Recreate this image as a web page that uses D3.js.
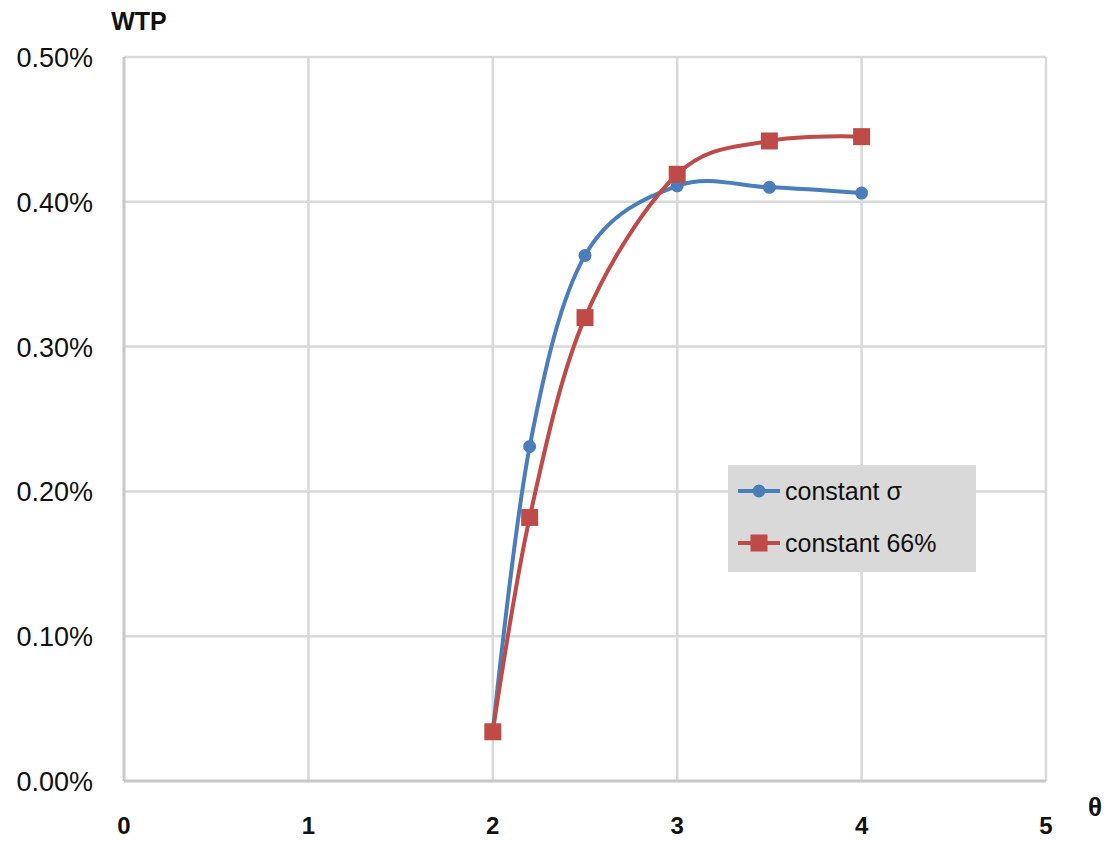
<!DOCTYPE html>
<html>
<head>
<meta charset="utf-8">
<script src="https://cdn.jsdelivr.net/npm/d3@7"></script>
<style>
  html, body { margin: 0; padding: 0; background: #fff; }
  svg { display: block; }
</style>
</head>
<body>
<svg id="chart" width="1107" height="843"></svg>
<script>
// WTP against theta for two calibrations
const thetaTicks = [0, 1, 2, 3, 4, 5];
const wtpTicks = [0, 0.001, 0.002, 0.003, 0.004, 0.005];

const thetaSigma = [2, 2.2, 2.5, 3, 3.5, 4];
const wtpSigma = [0.00034, 0.00231, 0.00363, 0.00411, 0.00410, 0.00406];

const theta66 = [2, 2.2, 2.5, 3, 3.5, 4];
const wtp66 = [0.00034, 0.00182, 0.00320, 0.00419, 0.00442, 0.00445];

const seriesNames = ["constant σ", "constant 66%"];
const seriesColors = ["#4A7EBB", "#BE4B48"];

const svg = d3.select("#chart");
const plot = { left: 124, right: 1046, top: 57, bottom: 781 };

const x = d3.scaleLinear().domain([0, 5]).range([plot.left, plot.right]);
const y = d3.scaleLinear().domain([0, 0.005]).range([plot.bottom, plot.top]);

const grid = "#D9D9D9";

// gridlines
svg.append("g").selectAll("line").data(wtpTicks.slice(1)).join("line")
  .attr("x1", plot.left).attr("x2", plot.right)
  .attr("y1", d => y(d)).attr("y2", d => y(d))
  .attr("stroke", grid).attr("stroke-width", 2.5);
svg.append("g").selectAll("line").data(thetaTicks.slice(1)).join("line")
  .attr("y1", plot.top).attr("y2", plot.bottom)
  .attr("x1", d => x(d)).attr("x2", d => x(d))
  .attr("stroke", grid).attr("stroke-width", 2.5);

// axis lines
svg.append("line").attr("x1", plot.left).attr("x2", plot.left)
  .attr("y1", plot.top).attr("y2", plot.bottom)
  .attr("stroke", "#C8C8C8").attr("stroke-width", 3);
svg.append("line").attr("x1", plot.left).attr("x2", plot.right)
  .attr("y1", plot.bottom).attr("y2", plot.bottom)
  .attr("stroke", "#C8C8C8").attr("stroke-width", 3);

// y tick labels
svg.append("g").selectAll("text").data(wtpTicks).join("text")
  .attr("x", 93).attr("y", d => y(d) + 10)
  .attr("text-anchor", "end")
  .attr("font-family", "Liberation Sans, Arial, sans-serif")
  .attr("font-size", 27).attr("fill", "#111")
  .text(d => d3.format(".2%")(d));

// x tick labels
svg.append("g").selectAll("text").data(thetaTicks).join("text")
  .attr("x", d => x(d)).attr("y", 834)
  .attr("text-anchor", "middle")
  .attr("font-family", "Liberation Sans, Arial, sans-serif")
  .attr("font-weight", "bold")
  .attr("font-size", 24).attr("fill", "#111")
  .text(d => d);

// axis titles
svg.append("text").attr("x", 139).attr("y", 30).attr("text-anchor", "middle")
  .attr("font-family", "Liberation Sans, Arial, sans-serif")
  .attr("font-weight", "bold").attr("font-size", 25).attr("fill", "#111")
  .text("WTP");
svg.append("text").attr("x", 1095).attr("y", 816).attr("text-anchor", "middle")
  .attr("font-family", "Liberation Sans, Arial, sans-serif")
  .attr("font-weight", "bold").attr("font-size", 26).attr("fill", "#111")
  .text("θ");

const line = d3.line().x(d => x(d[0])).y(d => y(d[1])).curve(d3.curveCardinal.tension(0));

const seriesData = [
  d3.zip(thetaSigma, wtpSigma),
  d3.zip(theta66, wtp66)
];

// lines
seriesData.forEach((pts, i) => {
  svg.append("path").datum(pts)
    .attr("d", line).attr("fill", "none")
    .attr("stroke", seriesColors[i]).attr("stroke-width", 4)
    .attr("stroke-linejoin", "round");
});

// markers
svg.append("g").selectAll("circle").data(seriesData[0]).join("circle")
  .attr("cx", d => x(d[0])).attr("cy", d => y(d[1])).attr("r", 6.5)
  .attr("fill", seriesColors[0]);
svg.append("g").selectAll("rect").data(seriesData[1]).join("rect")
  .attr("x", d => x(d[0]) - 8.5).attr("y", d => y(d[1]) - 8.5)
  .attr("width", 17).attr("height", 17)
  .attr("fill", seriesColors[1]);

// legend
const lg = svg.append("g");
lg.append("rect").attr("x", 728).attr("y", 465).attr("width", 248).attr("height", 107)
  .attr("fill", "#D9D9D9");
seriesNames.forEach((name, i) => {
  const cy = 491 + i * 52;
  lg.append("line").attr("x1", 738).attr("x2", 780).attr("y1", cy).attr("y2", cy)
    .attr("stroke", seriesColors[i]).attr("stroke-width", 4);
  if (i === 0) {
    lg.append("circle").attr("cx", 759).attr("cy", cy).attr("r", 6.5).attr("fill", seriesColors[i]);
  } else {
    lg.append("rect").attr("x", 750.5).attr("y", cy - 8.5).attr("width", 17).attr("height", 17)
      .attr("fill", seriesColors[i]);
  }
  lg.append("text").attr("x", 785).attr("y", cy + 9)
    .attr("font-family", "Liberation Sans, Arial, sans-serif")
    .attr("font-size", 25).attr("fill", "#111")
    .text(name);
});
</script>
</body>
</html>
